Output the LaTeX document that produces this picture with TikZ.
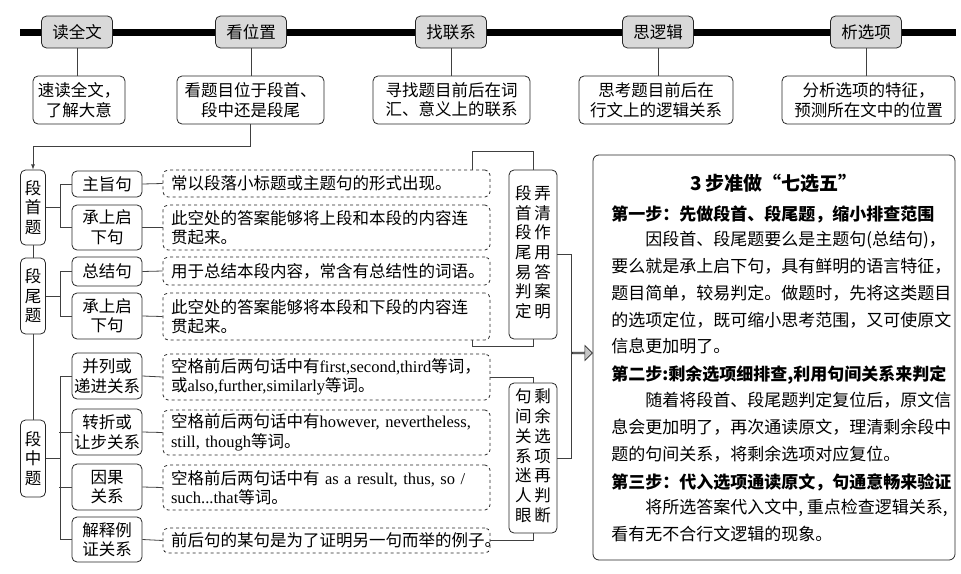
\documentclass[tikz,border=0pt]{standalone}
\usepackage{fontspec}
\setmainfont{Noto Sans CJK SC}
\newfontfamily\enfont{Liberation Serif}
\newcommand\en[1]{{\enfont #1}}
\newcommand\txt{\fontsize{16.5}{19.5}\selectfont}
\usetikzlibrary{shapes.arrows}

\begin{document}
\begin{tikzpicture}[x=1pt,y=-1pt,line width=0.8pt,
  head/.style={draw=black!85,rounded corners=5pt,fill=gray!30,minimum width=71pt,minimum height=32pt,inner sep=0pt,font=\txt},
  desc/.style={draw=black!85,rounded corners=5pt,fill=white,minimum height=48pt,inner sep=0pt,align=center,font=\txt},
  side/.style={draw=black!85,rounded corners=5pt,minimum width=25pt,text width=16.5pt,inner sep=0pt,align=center,font=\txt},
  kind/.style={draw=black!85,rounded corners=5pt,minimum width=70pt,inner sep=0pt,align=center,font=\txt},
  hint/.style={draw=black!85,dashed,rounded corners=5pt,text width=311pt,inner xsep=8pt,inner ysep=0pt,align=left,font=\txt},
  tip/.style={draw=black!85,rounded corners=5pt,minimum width=48pt,inner sep=0pt,font=\txt},
  stepline/.style={font=\bfseries\fontsize{17}{20}\selectfont,anchor=west,inner sep=0pt}]
\useasboundingbox (0,0) rectangle (961,573);

\coordinate (barL) at (20,32);
\coordinate (barR) at (956,32);
\draw[line width=7pt] (barL) -- (barR);

\node[head] (h1) at (77,32) {读全文};
\node[head] (h2) at (251,32) {看位置};
\node[head] (h3) at (451,32) {找联系};
\node[head] (h4) at (658,32) {思逻辑};
\node[head] (h5) at (866,32) {析选项};

\node[desc,minimum width=92pt] (d1) at (79,100) {速读全文，\\了解大意};
\node[desc,minimum width=147pt] (d2) at (250.5,100) {看题目位于段首、\\段中还是段尾};
\node[desc,minimum width=157pt] (d3) at (451.5,100) {寻找题目前后在词\\汇、意义上的联系};
\node[desc,minimum width=154pt] (d4) at (656,100) {思考题目前后在\\行文上的逻辑关系};
\node[desc,minimum width=173pt] (d5) at (868.5,100) {分析选项的特征，\\预测所在文中的位置};

\draw[black!75] (h1.south) -- (h1.south |- d1.north);
\draw[black!75] (h2.south) -- (h2.south |- d2.north);
\draw[black!75] (h3.south) -- (h3.south |- d3.north);
\draw[black!75] (h4.south) -- (h4.south |- d4.north);
\draw[black!75] (h5.south) -- (h5.south |- d5.north);

\node[side,minimum height=75pt] (q1) at (33,207.5) {段\\首\\题};
\node[side,minimum height=76pt] (q2) at (33,296) {段\\尾\\题};
\node[side,minimum height=77pt] (q3) at (33,458.5) {段\\中\\题};

\draw[black!75,-latex] (d2.south) -- ++(0,22) -| (q1.north);
\draw[black!75] (q1.south) -- (q2.north);
\draw[black!75] (q2.south) -- (q3.north);

\node[kind,minimum height=26pt] (s1) at (107,184) {主旨句};
\node[kind,minimum height=45pt] (s2) at (107,227.5) {承上启\\下句};
\node[kind,minimum height=29pt] (s3) at (107,271.5) {总结句};
\node[kind,minimum height=46pt] (s4) at (107,316) {承上启\\下句};
\node[kind,minimum height=46pt] (s5) at (107,376) {并列或\\递进关系};
\node[kind,minimum height=46pt] (s6) at (107,432) {转折或\\让步关系};
\node[kind,minimum height=46pt] (s7) at (107,487) {因果\\关系};
\node[kind,minimum height=45pt] (s8) at (107,539.5) {解释例\\证关系};

\draw[black!75] (q1.east) -- ++(14,0) |- (s1.west);
\draw[black!75] (q1.east) ++(14,0) |- (s2.west);
\draw[black!75] (q2.east) -- ++(14,0) |- (s3.west);
\draw[black!75] (q2.east) ++(14,0) |- (s4.west);
\draw[black!75] (q3.east) -- ++(14,0) |- (s5.west);
\draw[black!75] (q3.east) ++(14,0) |- (s8.west);
\draw[black!75] (s6.west) -- ++(-13,0);
\draw[black!75] (s7.west) -- ++(-13,0);

\node[hint,minimum height=27pt] (n1) at (326.5,183.5) {常以段落小标题或主题句的形式出现。};
\node[hint,minimum height=45pt] (n2) at (326.5,227.5) {此空处的答案能够将上段和本段的内容连\\贯起来。};
\node[hint,minimum height=28pt] (n3) at (326.5,271) {用于总结本段内容，常含有总结性的词语。};
\node[hint,minimum height=47pt] (n4) at (326.5,316.5) {此空处的答案能够将本段和下段的内容连\\贯起来。};
\node[hint,minimum height=46pt] (n5) at (326.5,377) {空格前后两句话中有\en{first,second,third}等词，\\或\en{also,further,similarly}等词。};
\node[hint,minimum height=45pt] (n6) at (326.5,432.5) {空格前后两句话中有\en{however, nevertheless,}\\\en{still, though}等词。};
\node[hint,minimum height=45pt] (n7) at (326.5,487.5) {空格前后两句话中有\en{ as a result, thus, so /}\\\en{such...that}等词。};
\node[hint,minimum height=25pt] (n8) at (326.5,540.5) {前后句的某句是为了证明另一句而举的例子。};

\draw[black!75] (s1.east) -- (n1.west);
\draw[black!75] (s2.east) -- (n2.west);
\draw[black!75] (s3.east) -- (n3.west);
\draw[black!75] (s4.east) -- (n4.west);
\draw[black!75] (s5.east) -- (n5.west);
\draw[black!75] (s6.east) -- (n6.west);
\draw[black!75] (s7.east) -- (n7.west);
\draw[black!75] (s8.east) -- (n8.west);

\node[tip,minimum height=169pt] (t1) at (533,254.5) {\begin{tabular}{@{}c@{\,}c@{}}段&弄\\首&清\\段&作\\尾&用\\易&答\\判&案\\定&明\end{tabular}};
\node[tip,minimum height=150pt] (t2) at (533,458) {\begin{tabular}{@{}c@{\,}c@{}}句&剩\\间&余\\关&选\\系&项\\迷&再\\人&判\\眼&断\end{tabular}};

\draw[black!75] ([xshift=-18pt]n1.north east) -- ++(0,-18) -| (t1.north);
\draw[black!75] ([xshift=-18pt]n4.south east) -- ++(0,6) -| (t1.south);
\draw[black!75] (n5.east) -| (t2.north);
\draw[black!75] (n8.east) -| (t2.south);
\draw[black!75] (t1.east) -- ++(14,0) |- (t2.east);

\node[single arrow,draw=black!85,fill=gray!45,minimum height=20pt,minimum width=15pt,single arrow head extend=3pt,inner sep=0pt,line width=0.7pt] (arr) at (582,353) {};

\node[draw=black!85,rounded corners=6pt,minimum width=362pt,minimum height=405pt] (steps) at (774,357.5) {};
\node[font=\bfseries\fontsize{19}{22}\selectfont] (ttl) at (774,183) {3 步准做“七选五”};

\node[stepline] (st1) at (611,214) {第一步：先做段首、段尾题，缩小排查范围};
\node[stepline] (st2) at (611,375) {第二步:剩余选项细排查,利用句间关系来判定};
\node[stepline] (st3) at (611,482) {第三步：代入选项通读原文，句通意畅来验证};

\node[anchor=north west,inner sep=0pt,align=left,font=\fontsize{17}{26.8}\selectfont] (body1) at (611,231) {%
\hspace*{2em}因段首、段尾题要么是主题句(总结句)，\\
要么就是承上启下句，具有鲜明的语言特征，\\
题目简单，较易判定。做题时，先将这类题目\\
的选项定位，既可缩小思考范围，又可使原文\\
信息更加明了。};
\node[anchor=north west,inner sep=0pt,align=left,font=\fontsize{17}{26.8}\selectfont] (body2) at (611,392) {%
\hspace*{2em}随着将段首、段尾题判定复位后，原文信\\
息会更加明了，再次通读原文，理清剩余段中\\
题的句间关系，将剩余选项对应复位。};
\node[anchor=north west,inner sep=0pt,align=left,font=\fontsize{17}{26.8}\selectfont] (body3) at (611,499) {%
\hspace*{2em}将所选答案代入文中, 重点检查逻辑关系,\\
看有无不合行文逻辑的现象。};
\end{tikzpicture}
\end{document}
